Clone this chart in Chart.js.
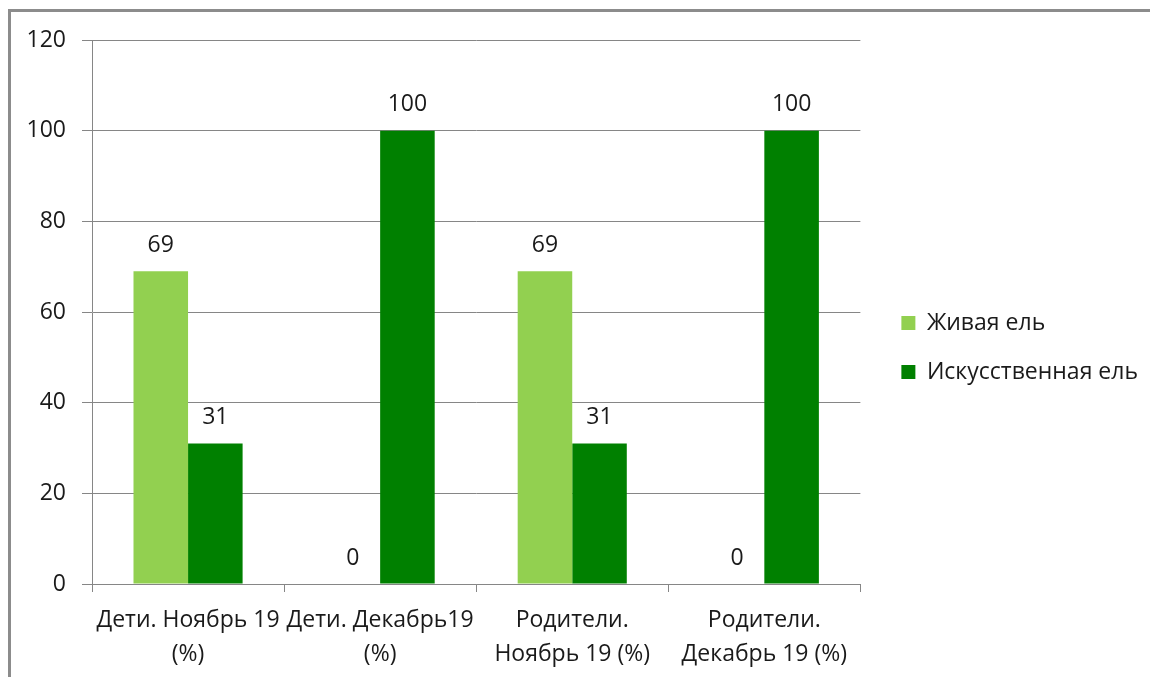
<!DOCTYPE html>
<html>
<head>
<meta charset="utf-8">
<script src="https://cdn.jsdelivr.net/npm/chart.js@4/dist/chart.umd.min.js"></script>
<style>
html,body{margin:0;padding:0;background:#fff;overflow:hidden}
#wrap{position:relative;width:1150px;height:677px}
#frame{position:absolute;left:8px;top:9px;right:-20px;bottom:-20px;border-left:3px solid #8c8c8c;border-top:3px solid #8c8c8c;pointer-events:none}
</style>
</head>
<body>
<div id="wrap">
<canvas id="chart"></canvas>
<div id="frame"></div>
</div>
<script>
// ===== DATA =====
const categories = [
["Дети. Ноябрь 19","(%)"],
["Дети. Декабрь19","(%)"],
["Родители.","Ноябрь 19 (%)"],
["Родители.","Декабрь 19 (%)"]
]
const liveTree = [69,0,69,0]
const artificialTree = [31,100,31,100]
const seriesNames = ["Живая ель","Искусственная ель"]
const yTicks = [0,20,40,60,80,100,120]

const FONT = "'Open Sans', 'Noto Sans', sans-serif"
const TEXT = "#1a1a1a"
const GRID = "#868686"

// ===== VALUE LABELS ABOVE BARS =====
const valueLabels = {
id:"valueLabels",
afterDatasetsDraw(chart){
const ctx = chart.ctx
ctx.save()
ctx.font = "23px " + FONT
ctx.fillStyle = TEXT
ctx.textAlign = "center"
ctx.textBaseline = "middle"
chart.data.datasets.forEach((ds,i)=>{
const meta = chart.getDatasetMeta(i)
meta.data.forEach((bar,j)=>{
ctx.fillText(String(ds.data[j]), bar.x, bar.y - 26)
})
})
ctx.restore()
}
}

// ===== LAYOUT TWEAKS =====
// let the category labels run to the bottom of the canvas, nudge the legend right
const layoutTweaks = {
id:"layoutTweaks",
afterLayout(chart){
const x = chart.scales.x
x.bottom = chart.height
x.height = x.bottom - x.top
if(chart.legend){
chart.legend.left += 15
chart.legend.right += 15
}
}
}

new Chart(document.getElementById("chart"),{
type:"bar",
data:{
labels:categories,
datasets:[{
label:seriesNames[0],
data:liveTree,
backgroundColor:"#92d050",
borderWidth:0,
categoryPercentage:0.568,
barPercentage:1
},{
label:seriesNames[1],
data:artificialTree,
backgroundColor:"#008000",
borderWidth:0,
categoryPercentage:0.568,
barPercentage:1
}]
},
options:{
responsive:true,
maintainAspectRatio:false,
animation:false,
layout:{padding:{top:40,left:0,right:17,bottom:22}},
plugins:{
legend:{
position:"right",
labels:{
boxWidth:14,
boxHeight:14,
padding:26,
color:TEXT,
font:{family:FONT,size:23}
}
},
tooltip:{enabled:false}
},
scales:{
x:{
grid:{display:true,drawOnChartArea:false,color:GRID,tickLength:8,offset:true},
border:{display:true,color:GRID},
ticks:{
color:TEXT,
font:{family:FONT,size:23,lineHeight:1.5},
padding:11,
maxRotation:0,
minRotation:0,
autoSkip:false
},
afterFit(scale){ scale.height = 71 }
},
y:{
min:0,
max:120,
afterBuildTicks(scale){ scale.ticks = yTicks.map(v=>({value:v})) },
grid:{color:GRID,tickLength:10},
border:{display:true,color:GRID},
ticks:{
color:TEXT,
font:{family:FONT,size:23},
padding:16
},
afterFit(scale){ scale.width = 92 }
}
}
},
plugins:[valueLabels,layoutTweaks]
})
</script>
</body>
</html>
